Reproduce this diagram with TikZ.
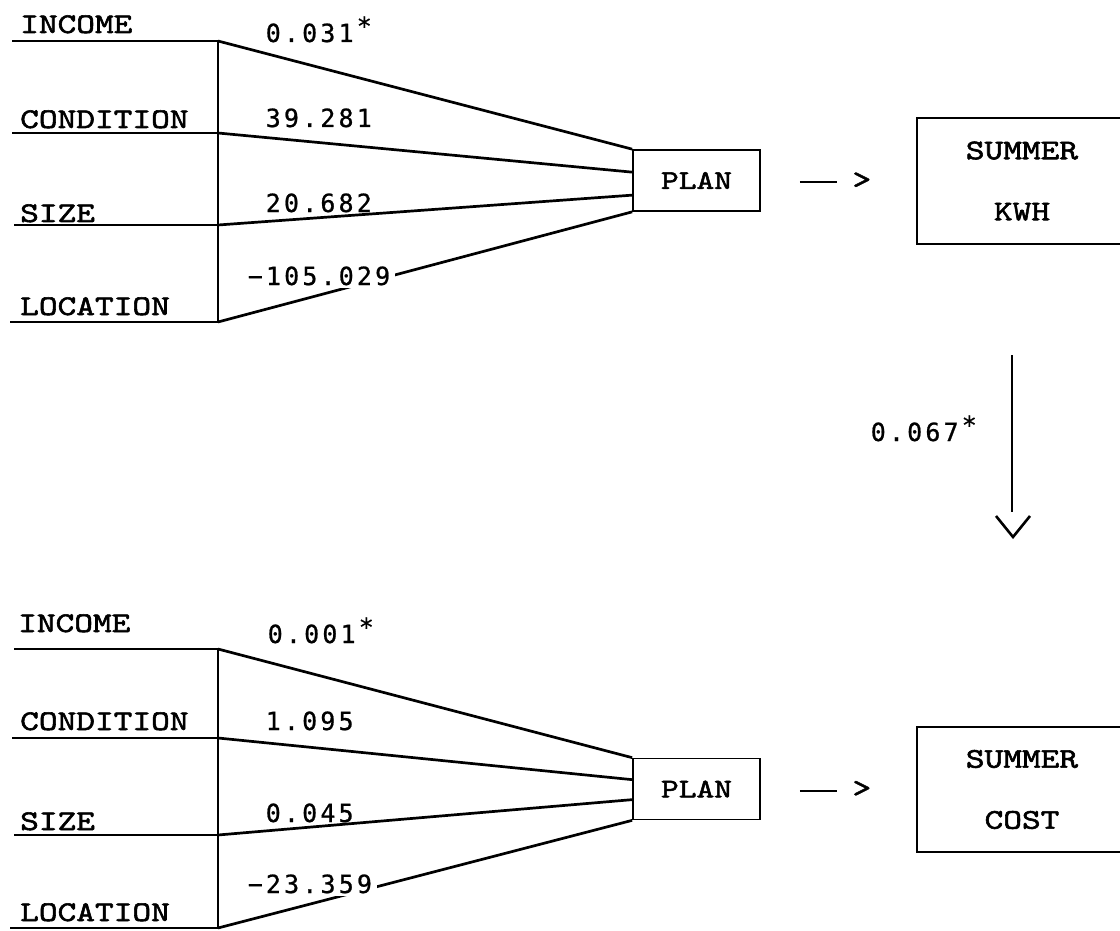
\documentclass[tikz,border=0pt]{standalone}
\usepackage{fontspec}
\usetikzlibrary{calc}
\newfontfamily\namefont{lmmono10-regular}[Extension=.otf, FakeStretch=1.25, FakeBold=2]
\newfontfamily\numfont{DejaVu Sans Mono}[FakeBold=0.8]
\newcommand\numcells[1]{\numcellsi#1\relax}
\def\numcellsi#1{\ifx\relax#1\else\makebox[18.2pt]{#1}\expandafter\numcellsi\fi}
\newcommand\starmark{\makebox[18.2pt]{\raisebox{7pt}{*}}}
\tikzset{
  varname/.style={font=\namefont\fontsize{28.5}{32}\selectfont, anchor=base west, inner sep=0pt},
  coef/.style={font=\numfont\fontsize{25}{26}\selectfont, anchor=base west, inner sep=0pt},
  coefonline/.style={coef, fill=white, inner sep=3pt},
  under/.style={line width=2.8pt},
  spine/.style={line width=1.6pt},
  conn/.style={line width=2.7pt},
  planbox/.style={draw, line width=1.7pt, minimum width=127pt, minimum height=61pt, inner sep=0pt,
    font=\namefont\fontsize{27}{32}\selectfont},
  outbox/.style={draw, line width=1.8pt, minimum width=210pt, minimum height=126pt, inner sep=0pt,
    align=center, font=\namefont\fontsize{28.5}{61}\selectfont},
  gt/.style={font=\namefont\fontsize{28.5}{32}\selectfont, inner sep=0pt},
  dashline/.style={line width=2pt},
  vline/.style={line width=1.6pt},
  vhead/.style={line width=2.6pt, line join=miter},
}
\begin{document}
\begin{tikzpicture}[x=1pt, y=-1pt]
\useasboundingbox (0,0) rectangle (1120,931);

% ================= TOP BLOCK =================
\node[planbox] (plan1) at (696.5,180.5) {PLAN};
\node[outbox] (kwh) at (1022,181) {SUMMER\\KWH};

\coordinate (p1a) at (plan1.north west);
\coordinate (p1b) at ($(plan1.north west)+(0,23)$);
\coordinate (p1c) at ($(plan1.north west)+(0,46)$);
\coordinate (p1d) at (plan1.south west);

\coordinate (t1s) at (12,41);  \coordinate (t1j) at (218,41);
\coordinate (t2s) at (12,133); \coordinate (t2j) at (218,133);
\coordinate (t3s) at (14,225); \coordinate (t3j) at (218,225);
\coordinate (t4s) at (10,322); \coordinate (t4j) at (218,322);

\node[varname] (tinc) at (20,33) {INCOME};
\node[varname] (tcon) at (20,128) {CONDITION};
\node[varname] (tsiz) at (20,222) {SIZE};
\node[varname] (tloc) at (20,315) {LOCATION};

\draw[under] (t1s) -- (t1j);
\draw[under] (t2s) -- (t2j);
\draw[under] (t3s) -- (t3j);
\draw[under] (t4s) -- (t4j);
\draw[spine] (t1j) -- (t4j);

\draw[conn] (t1j) -- (p1a);
\draw[conn] (t2j) -- (p1b);
\draw[conn] (t3j) -- (p1c);
\draw[conn] (t4j) -- (p1d);

\node[coef] (c1) at (264,42) {\numcells{0.031}\starmark};
\node[coef] (c2) at (264,127) {\numcells{39.281}};
\node[coef] (c3) at (264,212) {\numcells{20.682}};
\node[coefonline] (c4) at (243,285) {\numcells{−105.029}};

\coordinate (d1a) at ($(plan1.east)+(39,2)$);
\coordinate (d1b) at ($(plan1.east)+(76,2)$);
\draw[dashline] (d1a) -- (d1b);
\node[gt] (g1) at ($(plan1.east)+(101,0)$) {>};

% ================= VERTICAL ARROW =================
\coordinate (va) at (1012,355);
\coordinate (vb) at (1012,512);
\coordinate (vh1) at (996,516);
\coordinate (vh2) at (1013,537);
\coordinate (vh3) at (1030,516);
\draw[vline] (va) -- (vb);
\draw[vhead] (vh1) -- (vh2) -- (vh3);
\node[coef] (c9) at (869,441) {\numcells{0.067}\starmark};

% ================= BOTTOM BLOCK =================
\node[planbox] (plan2) at (696.5,789) {PLAN};
\node[outbox, minimum height=125pt] (cost) at (1022,789.5) {SUMMER\\COST};

\coordinate (p2a) at (plan2.north west);
\coordinate (p2b) at ($(plan2.north west)+(0,22)$);
\coordinate (p2c) at ($(plan2.north west)+(0,42)$);
\coordinate (p2d) at (plan2.south west);

\coordinate (b1s) at (14,649);  \coordinate (b1j) at (218,649);
\coordinate (b2s) at (12,738);  \coordinate (b2j) at (218,738);
\coordinate (b3s) at (14,835);  \coordinate (b3j) at (218,835);
\coordinate (b4s) at (10,928);  \coordinate (b4j) at (218,928);

\node[varname] (binc) at (18,632) {INCOME};
\node[varname] (bcon) at (20,730) {CONDITION};
\node[varname] (bsiz) at (20,830) {SIZE};
\node[varname] (bloc) at (20,921) {LOCATION};

\draw[under] (b1s) -- (b1j);
\draw[under] (b2s) -- (b2j);
\draw[under] (b3s) -- (b3j);
\draw[under] (b4s) -- (b4j);
\draw[spine] (b1j) -- (b4j);

\draw[conn] (b1j) -- (p2a);
\draw[conn] (b2j) -- (p2b);
\draw[conn] (b3j) -- (p2c);
\draw[conn] (b4j) -- (p2d);

\node[coef] (c5) at (266,643) {\numcells{0.001}\starmark};
\node[coef] (c6) at (264,730) {\numcells{1.095}};
\node[coef] (c7) at (264,822) {\numcells{0.045}};
\node[coefonline] (c8) at (243,893) {\numcells{−23.359}};

\coordinate (d2a) at ($(plan2.east)+(39,2)$);
\coordinate (d2b) at ($(plan2.east)+(76,2)$);
\draw[dashline] (d2a) -- (d2b);
\node[gt] (g2) at ($(plan2.east)+(101,0)$) {>};
\end{tikzpicture}
\end{document}
